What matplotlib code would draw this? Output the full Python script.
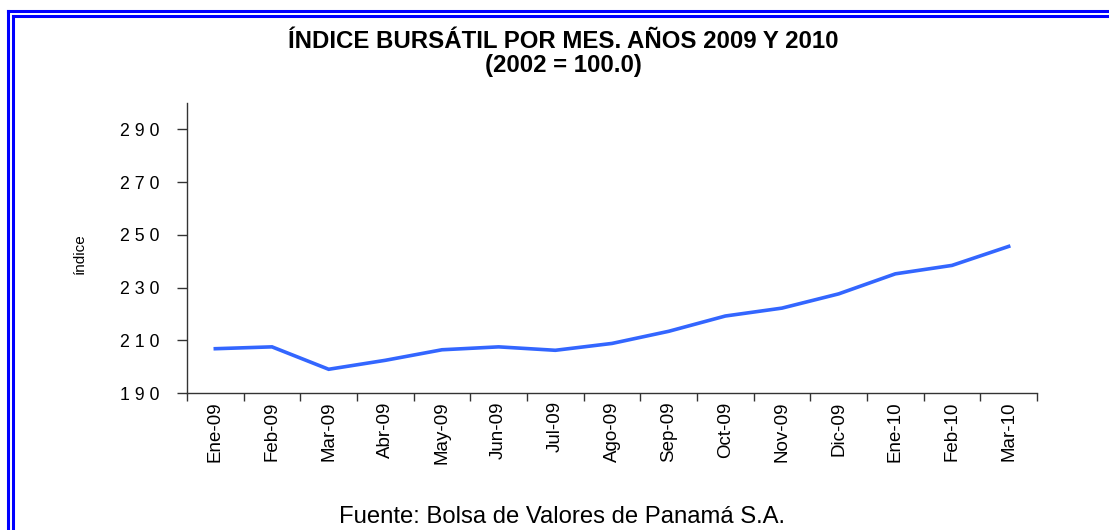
import numpy as np
import matplotlib
matplotlib.use("Agg")
import matplotlib.pyplot as plt
from matplotlib.lines import Line2D

# 数据
meses = ["Ene-09", "Feb-09", "Mar-09", "Abr-09", "May-09", "Jun-09", "Jul-09",
         "Ago-09", "Sep-09", "Oct-09", "Nov-09", "Dic-09", "Ene-10", "Feb-10", "Mar-10"]
indice = [206.8, 207.5, 199.0, 202.4, 206.4, 207.5, 206.2, 208.8,
          213.4, 219.2, 222.2, 227.6, 235.2, 238.4, 245.6]
y_ticks = [190, 210, 230, 250, 270, 290]

plt.rcParams['font.family'] = ['Liberation Sans', 'DejaVu Sans']

W, H = 1109, 530
fig = plt.figure(figsize=(W / 100, H / 100), dpi=100)
ax = fig.add_axes([187 / W, 1 - 393 / H, (1037 - 187) / W, (393 - 103) / H])

x = np.arange(len(meses))
ax.plot(x, indice, color="#3366ff", linewidth=2.6, solid_joinstyle='miter')

# 坐标轴
ax.set_xlim(-0.5, len(meses) - 0.5)
ax.set_ylim(190, 300)
ax.set_xticks(np.arange(-0.5, len(meses), 1.0))
ax.set_xticklabels([])
ax.set_xticks(x, minor=True)
ax.set_xticklabels(meses, minor=True, rotation=90, fontsize=13.5)
ax.tick_params(axis='x', which='major', direction='out', length=6, width=1, color='#333333')
ax.tick_params(axis='x', which='minor', length=0, pad=6)
ax.set_yticks(y_ticks)
ax.set_yticklabels([" ".join(str(v)) for v in y_ticks], fontsize=12.8)
ax.tick_params(axis='y', direction='out', length=7, width=1, color='#333333', pad=13)

for s in ['top', 'right']:
    ax.spines[s].set_visible(False)
for s in ['left', 'bottom']:
    ax.spines[s].set_color('#333333')
    ax.spines[s].set_linewidth(1)

# 文字
fig.text(80 / W, 1 - 254 / H, "índice", rotation=90, ha='center', va='center', fontsize=11)
fig.text(563 / W, 1 - 48 / H, "ÍNDICE BURSÁTIL POR MES. AÑOS 2009 Y 2010",
         ha='center', va='baseline', fontsize=17.3, fontweight='bold')
fig.text(563 / W, 1 - 72 / H, "(2002 = 100.0)",
         ha='center', va='baseline', fontsize=17.3, fontweight='bold')
fig.text(562 / W, 1 - 523 / H, "Fuente: Bolsa de Valores de Panamá S.A.",
         ha='center', va='baseline', fontsize=17.2)

# 双线边框（只看得到上边和左边）
for px, py in [(7.5, 11), (12.5, 16)]:
    fig.add_artist(Line2D([px / W, px / W], [-0.1, 1 - py / H], color='blue',
                          linewidth=2.2, transform=fig.transFigure))
    fig.add_artist(Line2D([px / W, 1.1], [1 - py / H, 1 - py / H], color='blue',
                          linewidth=2.2, transform=fig.transFigure))

fig.savefig("out.png", dpi=100)
